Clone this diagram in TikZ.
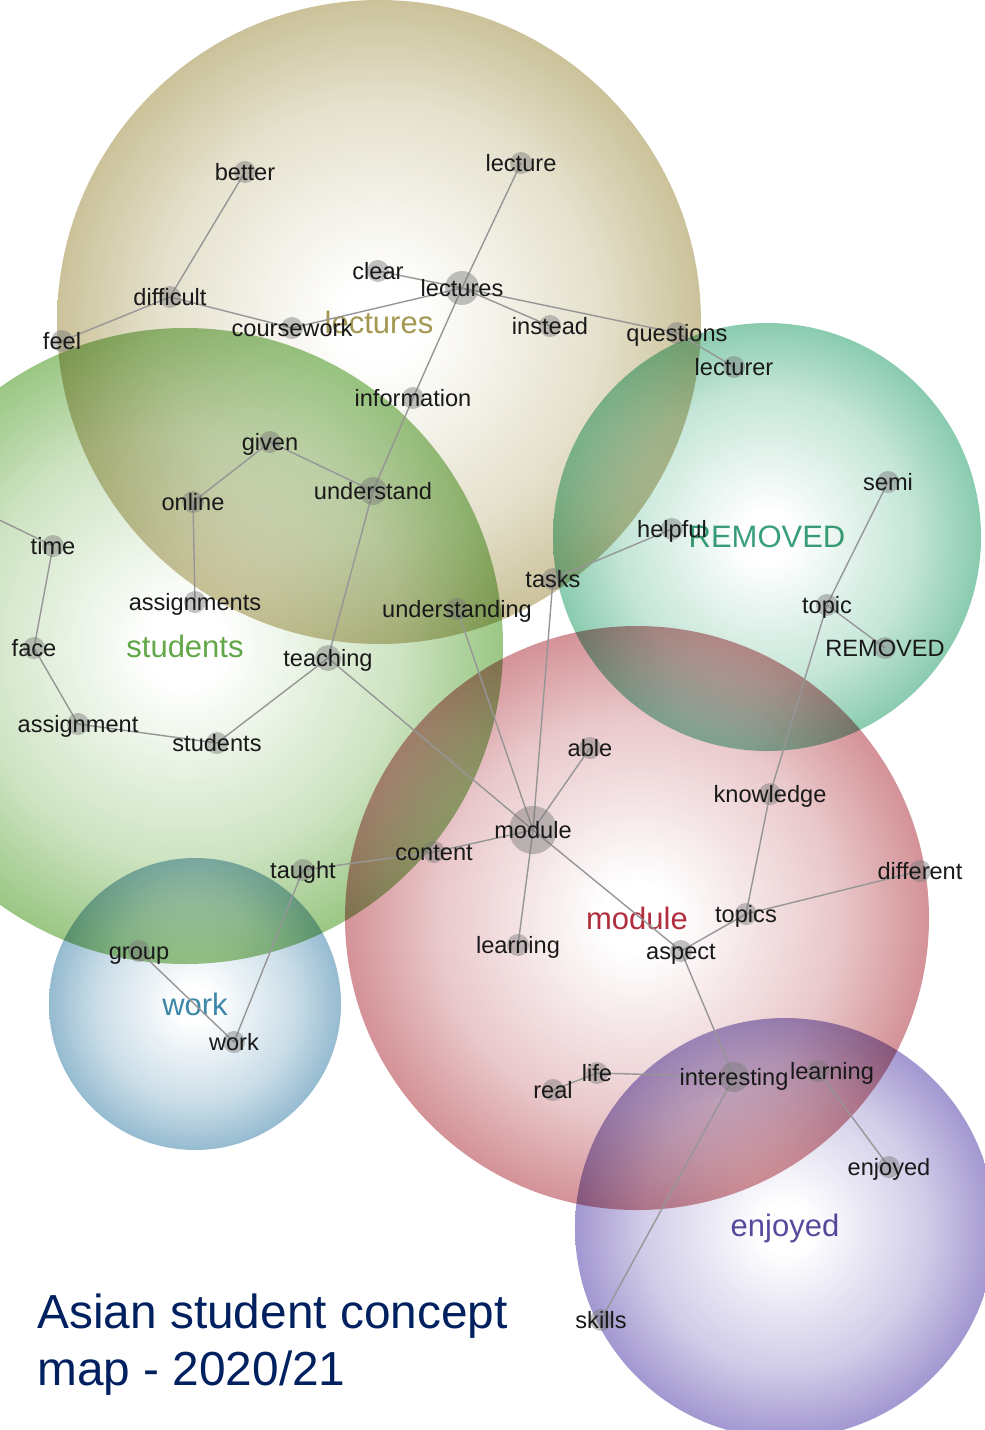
\documentclass[tikz,border=0pt]{standalone}
\usepackage{fontspec}
\setmainfont{Liberation Sans}
\usetikzlibrary{backgrounds}
\definecolor{lecRim}{RGB}{192,181,132}
\definecolor{lecText}{RGB}{163,152,82}
\definecolor{stuRim}{RGB}{132,186,104}
\definecolor{stuText}{RGB}{98,168,72}
\definecolor{remRim}{RGB}{112,192,158}
\definecolor{remText}{RGB}{58,160,122}
\definecolor{modRim}{RGB}{202,122,128}
\definecolor{modText}{RGB}{178,46,62}
\definecolor{wrkRim}{RGB}{126,172,198}
\definecolor{wrkText}{RGB}{62,136,170}
\definecolor{enjRim}{RGB}{142,128,198}
\definecolor{enjText}{RGB}{86,76,158}
\definecolor{dotGray}{RGB}{120,120,120}
\definecolor{linkGray}{RGB}{150,150,150}
\definecolor{titleBlue}{RGB}{0,32,96}
\colorlet{bubRim}{gray}
% white centre, theme colour at the rim (25bp = edge of the circle)
\pgfdeclareradialshading[bubRim]{bubble}{\pgfpoint{0bp}{0bp}}{color(0bp)=(white); color(3bp)=(white); color(17bp)=(bubRim!50!white); color(25bp)=(bubRim); color(50bp)=(bubRim)}
\newcommand\termfont{\fontsize{11.8}{13}\selectfont}
\newcommand\themefont{\fontsize{15.5}{18}\selectfont}
\newcommand\titlefont{\fontsize{23.9}{28.5}\selectfont}

\begin{document}
\begin{tikzpicture}[x=0.5pt,y=-0.5pt,
  bubble/.style={circle,inner sep=0pt,minimum size=#1,shade,shading=bubble,fill opacity=0.82,text opacity=1,blend mode=multiply,font=\themefont},
  rim/.code={\colorlet{bubRim}{#1}},
  dot/.style ={circle,inner sep=0pt,minimum size=11pt,fill=dotGray,fill opacity=0.45},
  termtext/.style={font=\termfont,text=black!90,text opacity=1,fill opacity=1,inner sep=0pt,text height=8.6pt,text depth=0pt},
  term/.style={dot,label={[termtext]center:#1}},
  link/.style={draw=linkGray,line width=0.7pt}]

\useasboundingbox (0,0) rectangle (985,1430);

% theme circles
\begin{scope}[on background layer]
\node[bubble=322pt,rim=lecRim,text=lecText] (cLec)  at (379,322)  {lectures};
\node[bubble=318pt,rim=stuRim,text=stuText] (cStu)  at (185,646)  {students};
\node[bubble=214pt,rim=remRim,text=remText] (cRem)  at (767,537)  {REMOVED};
\node[bubble=292pt,rim=modRim,text=modText] (cMod)  at (637,918)  {module};
\node[bubble=146pt,rim=wrkRim,text=wrkText] (cWork) at (195,1004) {work};
\node[bubble=210pt,rim=enjRim,text=enjText] (cEnj)  at (785,1228) {enjoyed};
\end{scope}

% concepts
\node[term=better]      (better)      at (245,172) {};
\node[term=lecture]     (lecture)     at (521,163) {};
\node[term=clear]       (clear)       at (378,271) {};
\node[term=lectures,minimum size=17pt] (lecs) at (462,288) {};
\node[term=difficult]   (difficult)   at (170,297) {};
\node[term=feel]        (feel)        at (62,341)  {};
\node[term=coursework]  (coursework)  at (292,328) {};
\node[term=instead]     (instead)     at (550,326) {};
\node[term=questions]   (questions)   at (677,333) {};
\node[term=lecturer]    (lecturer)    at (734,367) {};
\node[term=information] (information) at (413,398) {};
\node[term=given]       (given)       at (270,442) {};
\node[term=understand,minimum size=14pt] (understand) at (373,491) {};
\node[term=online]      (online)      at (193,502) {};
\node[term=time]        (time)        at (53,546)  {};
\node[term=assignments] (assignments) at (195,602) {};
\node[term=understanding] (understanding) at (457,609) {};
\node[term=face]        (face)        at (34,648)  {};
\node[term=teaching,minimum size=13pt] (teaching) at (328,658) {};
\node[term=assignment]  (assignment)  at (78,724)  {};
\node[term=students]    (stus)        at (217,743) {};
\node[term=tasks]       (tasks)       at (553,579) {};
\node[term=helpful]     (helpful)     at (672,529) {};
\node[term=semi]        (semi)        at (888,482) {};
\node[term=topic]       (topic)       at (827,605) {};
\node[term=REMOVED]     (removed)     at (885,648) {};
\node[term=able]        (able)        at (590,748) {};
\node[term=module,minimum size=24pt] (mods) at (533,830) {};
\node[term=content]     (content)     at (434,852) {};
\node[term=taught]      (taught)      at (303,870) {};
\node[term=learning]    (learning)    at (518,945) {};
\node[term=aspect]      (aspect)      at (681,951) {};
\node[term=knowledge]   (knowledge)   at (770,794) {};
\node[term=different]   (different)   at (920,871) {};
\node[term=topics]      (topics)      at (746,914) {};
\node[term=group]       (group)       at (139,951) {};
\node[term=work]        (works)       at (234,1042) {};
\node[term=real]        (real)        at (553,1090) {};
\node[term=life]        (life)        at (597,1073) {};
\node[term=interesting,minimum size=15pt] (interesting) at (734,1077) {};
\node[dot,label={[termtext,xshift=7pt]center:learning}] (learning2) at (818,1071) {};
\node[term=enjoyed]     (enjoyeds)    at (889,1167) {};
\node[term=skills]      (skills)      at (601,1320) {};
\coordinate (offW) at (-50,496);

\node[anchor=base west,align=left,font=\titlefont,text=titleBlue,inner sep=0pt] (title) at (37,1385) {Asian student concept\\map - 2020/21};

% links
\begin{scope}[on background layer]
\draw[link] (better.center) -- (difficult.center);
\draw[link] (difficult.center) -- (feel.center);
\draw[link] (difficult.center) -- (coursework.center);
\draw[link] (coursework.center) -- (lecs.center);
\draw[link] (clear.center) -- (lecs.center);
\draw[link] (lecture.center) -- (lecs.center);
\draw[link] (lecs.center) -- (instead.center);
\draw[link] (lecs.center) -- (questions.center);
\draw[link] (questions.center) -- (lecturer.center);
\draw[link] (lecs.center) -- (information.center);
\draw[link] (information.center) -- (understand.center);
\draw[link] (understand.center) -- (given.center);
\draw[link] (given.center) -- (online.center);
\draw[link] (online.center) -- (assignments.center);
\draw[link] (understand.center) -- (teaching.center);
\draw[link] (teaching.center) -- (stus.center);
\draw[link] (stus.center) -- (assignment.center);
\draw[link] (assignment.center) -- (face.center);
\draw[link] (face.center) -- (time.center);
\draw[link] (time.center) -- (offW);
\draw[link] (teaching.center) -- (mods.center);
\draw[link] (understanding.center) -- (mods.center);
\draw[link] (tasks.center) -- (mods.center);
\draw[link] (tasks.center) -- (helpful.center);
\draw[link] (semi.center) -- (topic.center);
\draw[link] (topic.center) -- (removed.center);
\draw[link] (topic.center) -- (knowledge.center);
\draw[link] (knowledge.center) -- (topics.center);
\draw[link] (topics.center) -- (different.center);
\draw[link] (topics.center) -- (aspect.center);
\draw[link] (aspect.center) -- (mods.center);
\draw[link] (mods.center) -- (able.center);
\draw[link] (mods.center) -- (learning.center);
\draw[link] (mods.center) -- (content.center);
\draw[link] (content.center) -- (taught.center);
\draw[link] (taught.center) -- (works.center);
\draw[link] (works.center) -- (group.center);
\draw[link] (aspect.center) -- (interesting.center);
\draw[link] (interesting.center) -- (life.center);
\draw[link] (life.center) -- (real.center);
\draw[link] (interesting.center) -- (skills.center);
\draw[link] (learning2.center) -- (enjoyeds.center);
\end{scope}
\end{tikzpicture}
\end{document}
